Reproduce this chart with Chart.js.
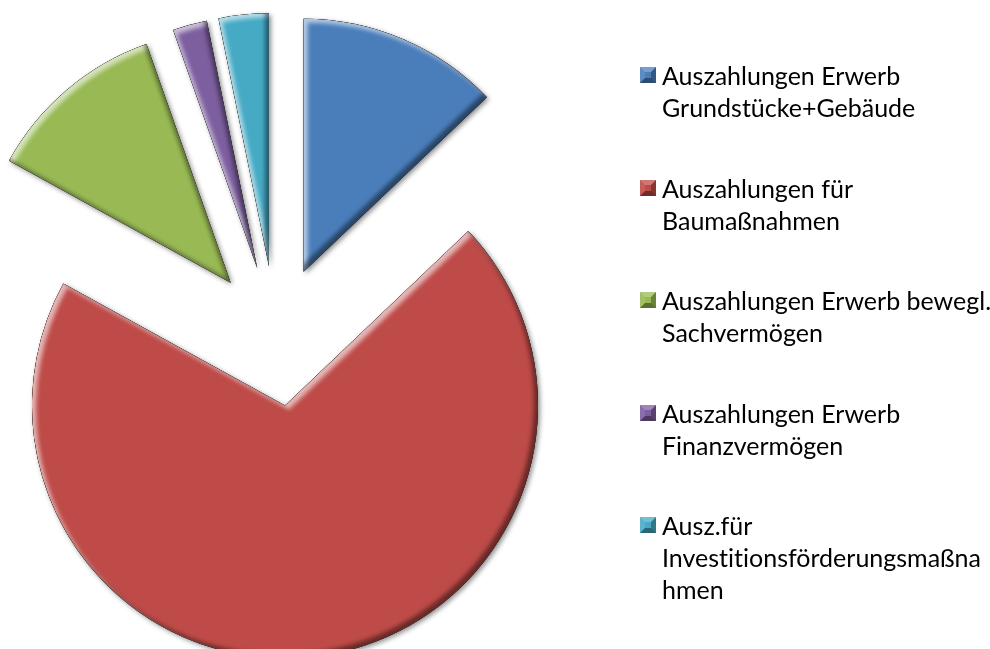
<!DOCTYPE html>
<html>
<head>
<meta charset="utf-8">
<script src="https://cdn.jsdelivr.net/npm/chart.js@4.4.1/dist/chart.umd.min.js"></script>
<style>
  body { margin: 0; background: #fff; }
  #wrap { position: relative; width: 990px; height: 649px; overflow: hidden; }
  #legende { position: absolute; left: 640px; top: 0; font-family: Lato, sans-serif; font-size: 25px; color: #000; font-variant-ligatures: none; font-feature-settings: "liga" 0; }
  .item { position: absolute; left: 0; white-space: nowrap; }
  .marke { position: absolute; left: 0; top: 8px; width: 16px; height: 16px; box-sizing: border-box; border: 5px solid; }
  .text { position: absolute; left: 22px; top: 0; line-height: 32px; }
</style>
</head>
<body>
<div id="wrap">
  <canvas id="torte" width="990" height="649"></canvas>
  <div id="legende"></div>
</div>
<script>
// Kategorien (so umbrochen wie in der Legende)
const labels = [
  ['Auszahlungen Erwerb', 'Grundstücke+Gebäude'],
  ['Auszahlungen für', 'Baumaßnahmen'],
  ['Auszahlungen Erwerb bewegl.', 'Sachvermögen'],
  ['Auszahlungen Erwerb', 'Finanzvermögen'],
  ['Ausz.für', 'Investitionsförderungsmaßna', 'hmen']
];
// Anteile in Prozent
const werte = [12.9, 70.1, 11.6, 2.2, 3.2];
const farben = ['#4A7EBB', '#BE4B48', '#98B954', '#7D5FA0', '#46AAC5'];

function mischen(hex, ziel, anteil) {
  const n = parseInt(hex.slice(1), 16);
  const r = (n >> 16) & 255, g = (n >> 8) & 255, b = n & 255;
  const m = c => Math.round(c + (ziel - c) * anteil);
  return 'rgb(' + m(r) + ',' + m(g) + ',' + m(b) + ')';
}

// Explosion + Bevel-Effekt
const abstand = 70;
const explodieren = {
  id: 'explodieren',
  beforeDatasetDraw(chart, args) {
    const ctx = chart.ctx;
    args.meta.data.forEach(el => {
      const mitte = (el.startAngle + el.endAngle) / 2;
      el._bx = el.x; el._by = el.y;
      el.x += Math.cos(mitte) * abstand;
      el.y += Math.sin(mitte) * abstand;
    });
    ctx.save();
    ctx.shadowColor = 'rgba(0,0,0,0.45)';
    ctx.shadowBlur = 5;
    ctx.shadowOffsetX = 2;
    ctx.shadowOffsetY = 2;
  },
  afterDatasetDraw(chart, args) {
    const ctx = chart.ctx;
    ctx.restore();
    args.meta.data.forEach(el => {
      const innen = (farbe, dx, dy) => {
        ctx.save();
        ctx.beginPath();
        ctx.moveTo(el.x, el.y);
        ctx.arc(el.x, el.y, el.outerRadius, el.startAngle, el.endAngle);
        ctx.closePath();
        ctx.clip();
        ctx.beginPath();
        ctx.rect(-2000, -2000, 5000, 5000);
        ctx.moveTo(el.x, el.y);
        ctx.arc(el.x, el.y, el.outerRadius, el.startAngle, el.endAngle);
        ctx.closePath();
        ctx.shadowColor = farbe;
        ctx.shadowBlur = 4;
        ctx.shadowOffsetX = dx;
        ctx.shadowOffsetY = dy;
        ctx.fillStyle = '#000';
        ctx.fill('evenodd');
        ctx.restore();
      };
      innen('rgba(255,255,255,0.6)', 4, 4);
      innen('rgba(0,0,0,0.45)', -4, -4);
      el.x = el._bx; el.y = el._by;
    });
  }
};

new Chart(document.getElementById('torte'), {
  type: 'pie',
  data: {
    labels: labels,
    datasets: [{
      data: werte,
      backgroundColor: farben,
      borderWidth: 0,
      radius: 253
    }]
  },
  options: {
    responsive: false,
    animation: false,
    layout: { padding: { left: 0, right: 438, top: 23, bottom: 0 } },
    plugins: {
      legend: { display: false },
      tooltip: { enabled: false }
    }
  },
  plugins: [explodieren]
});

// Legende
const legende = document.getElementById('legende');
labels.forEach((zeilen, i) => {
  const item = document.createElement('div');
  item.className = 'item';
  item.style.top = (75 + 112.5 * i - 16) + 'px';
  const marke = document.createElement('div');
  marke.className = 'marke';
  marke.style.borderTopColor = mischen(farben[i], 255, 0.25);
  marke.style.borderLeftColor = mischen(farben[i], 255, 0.1);
  marke.style.borderRightColor = mischen(farben[i], 0, 0.3);
  marke.style.borderBottomColor = mischen(farben[i], 0, 0.4);
  marke.style.background = farben[i];
  const text = document.createElement('div');
  text.className = 'text';
  text.innerHTML = zeilen.join('<br>');
  item.appendChild(marke);
  item.appendChild(text);
  legende.appendChild(item);
});
</script>
</body>
</html>
